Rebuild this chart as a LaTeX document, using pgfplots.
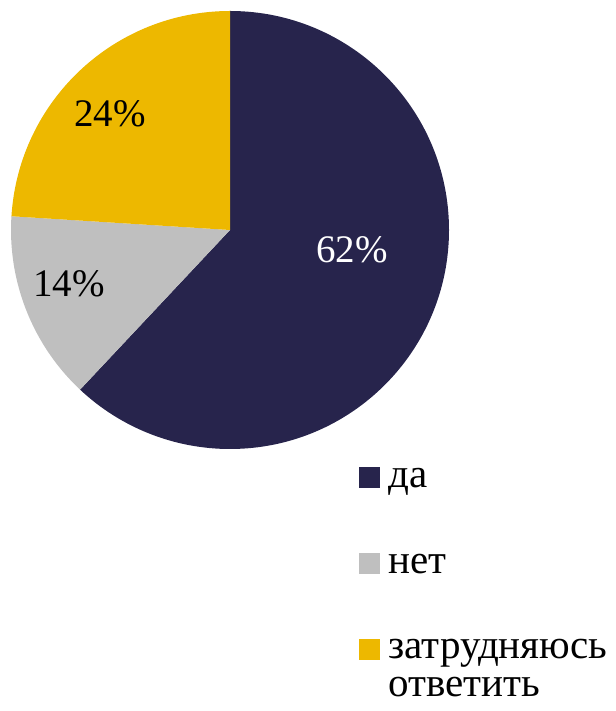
\documentclass[border=0pt]{standalone}
\usepackage{pgfplots}
\pgfplotsset{compat=1.18}
\usepackage{pgfplotstable}
\usepackage{fontspec}
\setmainfont{Liberation Serif}

\definecolor{cda}{HTML}{27244C}
\definecolor{cnet}{HTML}{BFBFBF}
\definecolor{czat}{HTML}{EDB800}

% share of answers, percent
\pgfplotstableread{
value color label
62 cda  da
14 cnet net
24 czat zat
}\piedata

\begin{document}
\begin{tikzpicture}
\begin{axis}[
    x=0.5pt, y=0.5pt,
    xmin=0, xmax=615, ymin=0, ymax=711,
    hide axis, clip=false,
    scale only axis,
]
\path (axis cs:0,0) rectangle (axis cs:615,711);
% pie: centre (230,481), radius 219 px, clockwise from the top
\pgfplotstablegetrowsof{\piedata}
\pgfmathtruncatemacro{\nrows}{\pgfplotsretval-1}
\def\startang{90}
\pgfplotsforeachungrouped \i in {0,...,\nrows}{%
    \pgfplotstablegetelem{\i}{value}\of{\piedata}\let\val\pgfplotsretval
    \pgfplotstablegetelem{\i}{color}\of{\piedata}\let\col\pgfplotsretval
    \pgfmathsetmacro{\endang}{\startang-3.6*\val}%
    \edef\cmd{\noexpand\fill[\col] (axis cs:230,481) --
        (axis cs:{230+219*cos(\startang)},{481+219*sin(\startang)})
        arc[start angle=\startang, end angle=\endang, radius=109.5pt] -- cycle;}%
    \cmd
    \global\let\startang\endang
}
\node[font=\fontsize{19.5}{22}\selectfont, text=white] at (axis cs:352,461) {62\%};
\node[font=\fontsize{19.5}{22}\selectfont] at (axis cs:69,427) {14\%};
\node[font=\fontsize{19.5}{22}\selectfont] at (axis cs:110,597) {24\%};
% legend
\fill[cda]  (axis cs:359,223) rectangle (axis cs:380,244);
\fill[cnet] (axis cs:359,137) rectangle (axis cs:380,158);
\fill[czat] (axis cs:359,51)  rectangle (axis cs:380,72);
\begin{scope}[every node/.style={anchor=base west, inner sep=0pt, font=\fontsize{20.5}{22}\selectfont}]
\node at (axis cs:388,223) {да};
\node at (axis cs:388,137) {нет};
\node at (axis cs:388,52) {затрудняюсь};
\node at (axis cs:388,14) {ответить};
\end{scope}
\end{axis}
\end{tikzpicture}
\end{document}
